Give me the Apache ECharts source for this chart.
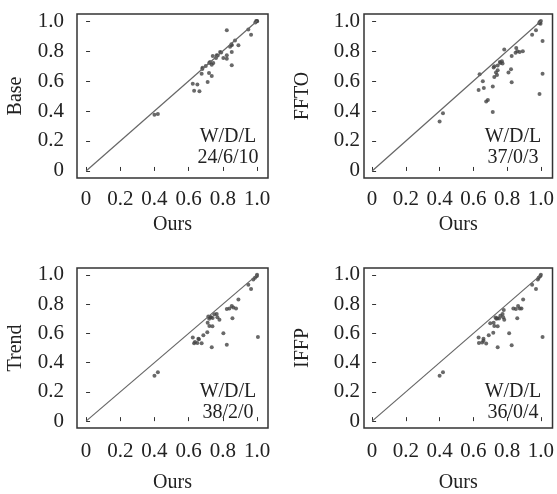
<!DOCTYPE html>
<html>
<head>
<meta charset="utf-8">
<script src="https://cdn.jsdelivr.net/npm/echarts@6/dist/echarts.min.js"></script>
<style>
  html, body { margin: 0; padding: 0; background: #fff; }
  #main { width: 557px; height: 494px; }
</style>
</head>
<body>
<div id="main"></div>
<script>
// 数据: 每个面板 [Ours, 对比方法]
var basePoints = [
  [0.40, 0.375], [0.42, 0.38],
  [0.624, 0.582], [0.651, 0.576], [0.632, 0.535], [0.663, 0.531],
  [0.711, 0.593], [0.719, 0.653], [0.735, 0.633], [0.676, 0.649], [0.681, 0.689],
  [0.725, 0.727], [0.735, 0.709], [0.744, 0.72], [0.70, 0.70],
  [0.764, 0.771], [0.741, 0.767], [0.76, 0.753], [0.784, 0.793], [0.77, 0.77],
  [0.823, 0.771], [0.803, 0.753], [0.823, 0.749], [0.852, 0.793], [0.852, 0.705],
  [0.852, 0.838], [0.842, 0.829], [0.891, 0.838], [0.871, 0.871], [0.823, 0.938],
  [0.949, 0.944], [0.965, 0.909], [0.99, 0.99], [0.995, 1.0], [1.0, 1.0], [1.0, 0.998],
  [0.72, 0.72], [0.79, 0.79], [0.85, 0.845], [0.68, 0.68]
];
var fftoPoints = [
  [0.40, 0.33], [0.42, 0.385],
  [0.715, 0.393], [0.676, 0.464], [0.686, 0.473],
  [0.631, 0.54], [0.662, 0.553], [0.656, 0.598], [0.637, 0.645], [0.715, 0.564],
  [0.724, 0.627], [0.734, 0.656], [0.744, 0.671], [0.724, 0.698], [0.744, 0.704],
  [0.757, 0.727], [0.769, 0.731], [0.773, 0.716], [0.783, 0.811],
  [0.827, 0.591], [0.808, 0.656], [0.823, 0.678], [0.827, 0.767],
  [0.854, 0.82], [0.86, 0.798], [0.874, 0.793], [0.893, 0.798], [0.85, 0.789],
  [0.948, 0.909], [0.971, 0.938], [0.993, 0.993], [0.998, 0.982], [1.0, 1.0], [0.99, 0.985],
  [1.01, 0.867], [1.01, 0.649], [0.992, 0.513],
  [0.72, 0.69], [0.74, 0.64], [0.76, 0.72]
];
var trendPoints = [
  [0.40, 0.31], [0.42, 0.335],
  [0.624, 0.572], [0.657, 0.563], [0.637, 0.541], [0.651, 0.534], [0.632, 0.532], [0.676, 0.532],
  [0.686, 0.587], [0.709, 0.607], [0.735, 0.505], [0.711, 0.673], [0.721, 0.651], [0.739, 0.649],
  [0.72, 0.70], [0.73, 0.71], [0.74, 0.705], [0.725, 0.712],
  [0.764, 0.733], [0.768, 0.711], [0.78, 0.693], [0.803, 0.6], [0.823, 0.523],
  [0.823, 0.766], [0.838, 0.77], [0.852, 0.788], [0.861, 0.777], [0.877, 0.77], [0.856, 0.704],
  [0.891, 0.832], [0.949, 0.932], [0.965, 0.903],
  [0.978, 0.969], [0.988, 0.98], [0.998, 0.991], [1.0, 1.0], [1.005, 0.576],
  [0.75, 0.73], [0.66, 0.56], [0.715, 0.715]
];
var ifppPoints = [
  [0.40, 0.31], [0.42, 0.335],
  [0.631, 0.572], [0.66, 0.563], [0.633, 0.534], [0.652, 0.538], [0.676, 0.53],
  [0.691, 0.587], [0.718, 0.605],
  [0.744, 0.505], [0.812, 0.6], [0.827, 0.519], [1.01, 0.576],
  [0.72, 0.673], [0.724, 0.651], [0.744, 0.649],
  [0.731, 0.708], [0.742, 0.704], [0.752, 0.702], [0.736, 0.70],
  [0.773, 0.733], [0.777, 0.711], [0.783, 0.693],
  [0.837, 0.77], [0.852, 0.766], [0.865, 0.788], [0.875, 0.77], [0.885, 0.77],
  [0.86, 0.704], [0.895, 0.832], [0.948, 0.932], [0.971, 0.903],
  [0.982, 0.969], [0.987, 0.98], [0.996, 0.991], [1.0, 1.0],
  [0.70, 0.67], [0.76, 0.72], [0.66, 0.55], [0.78, 0.76]
];
var tickValues = [0, 0.2, 0.4, 0.6, 0.8, 1.0];
var diagonal = [[0, 0], [1, 1]];

var panels = [
  { name: 'Base', points: basePoints, wdl: '24/6/10', left: 77, top: 14, height: 164, xmin: -0.053, ylabMargin: 13, xlabMargin: 11, xNameGap: 37, tx: 228, ty: 147 },
  { name: 'FFTO', points: fftoPoints, wdl: '37/0/3', left: 364, top: 14, height: 164, xmin: -0.048, ylabMargin: 4, xlabMargin: 11, xNameGap: 37, tx: 513, ty: 147 },
  { name: 'Trend', points: trendPoints, wdl: '38/2/0', left: 77, top: 268, height: 165, xmin: -0.053, ylabMargin: 13, xlabMargin: 13, xNameGap: 45, tx: 228, ty: 402 },
  { name: 'IFFP', points: ifppPoints, wdl: '36/0/4', left: 364, top: 268, height: 165, xmin: -0.048, ylabMargin: 4, xlabMargin: 13, xNameGap: 45, tx: 513, ty: 402 }
];

var font = 'Liberation Serif';
var fmt = function (v) { return v === 0 ? '0' : v.toFixed(1); };

var chart = echarts.init(document.getElementById('main'), null, { renderer: 'canvas' });

var grid = [], xAxis = [], yAxis = [], series = [], graphic = [];
panels.forEach(function (p, i) {
  grid.push({
    left: p.left, top: p.top, width: 191, height: p.height,
    show: true, borderColor: '#333', borderWidth: 1.5, backgroundColor: 'transparent'
  });
  xAxis.push({
    gridIndex: i, type: 'value', min: p.xmin, max: p.xmin + 1.117,
    name: 'Ours', nameLocation: 'middle', nameGap: p.xNameGap,
    nameTextStyle: { fontFamily: font, fontSize: 20, color: '#222' },
    axisLine: { show: false },
    axisTick: { show: true, inside: true, length: 4, customValues: tickValues, lineStyle: { color: '#333' } },
    axisLabel: { customValues: tickValues, formatter: fmt, margin: p.xlabMargin, fontFamily: font, fontSize: 21, color: '#222' },
    splitLine: { show: false }
  });
  yAxis.push({
    gridIndex: i, type: 'value', min: -0.047, max: 1.047,
    name: p.name, nameLocation: 'middle', nameGap: 51,
    nameTextStyle: { fontFamily: font, fontSize: 20, color: '#222' },
    axisLine: { show: false },
    axisTick: { show: true, inside: true, length: 4, customValues: tickValues, lineStyle: { color: '#333' } },
    axisLabel: { customValues: tickValues, formatter: fmt, margin: p.ylabMargin, fontFamily: font, fontSize: 21, color: '#222' },
    splitLine: { show: false }
  });
  series.push({
    type: 'line', xAxisIndex: i, yAxisIndex: i, data: diagonal,
    symbol: 'none', silent: true,
    lineStyle: { color: '#666', width: 1.2 }
  });
  series.push({
    type: 'scatter', xAxisIndex: i, yAxisIndex: i, data: p.points,
    symbolSize: 4, itemStyle: { color: '#444' }
  });
  graphic.push({
    type: 'text', silent: true,
    style: {
      text: 'W/D/L\n' + p.wdl, x: p.tx, y: p.ty,
      textAlign: 'center', textVerticalAlign: 'middle',
      font: '20px "Liberation Serif"', lineHeight: 21, fill: '#222'
    }
  });
});

chart.setOption({
  animation: false,
  grid: grid,
  xAxis: xAxis,
  yAxis: yAxis,
  series: series,
  graphic: graphic
});
</script>
</body>
</html>
